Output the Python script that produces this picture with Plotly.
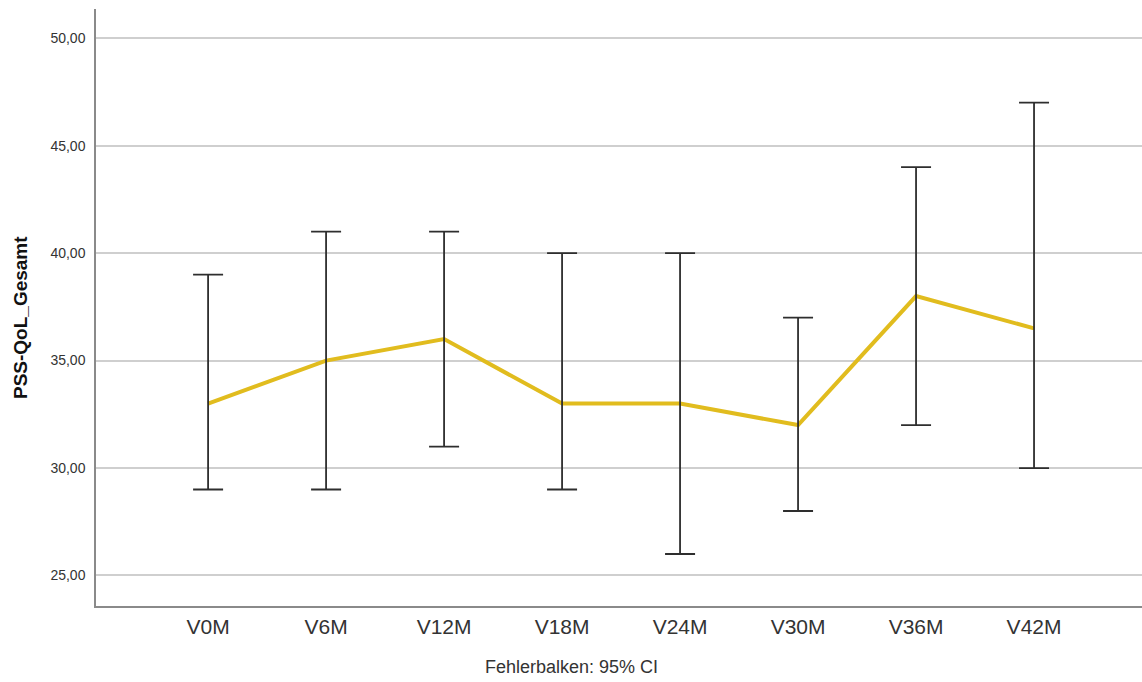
import plotly.graph_objects as go

# Visits and PSS-QoL total score: mean with 95% confidence interval
visits = ["V0M", "V6M", "V12M", "V18M", "V24M", "V30M", "V36M", "V42M"]
mean_score = [33, 35, 36, 33, 33, 32, 38, 36.5]
ci_lower = [29, 29, 31, 29, 26, 28, 32, 30]
ci_upper = [39, 41, 41, 40, 40, 37, 44, 47]
y_ticks = [25, 30, 35, 40, 45, 50]

err_plus = [u - m for u, m in zip(ci_upper, mean_score)]
err_minus = [m - l for m, l in zip(mean_score, ci_lower)]

FONT = "Liberation Sans, Arial, sans-serif"

fig = go.Figure()

# mean line
fig.add_trace(go.Scatter(
    x=visits, y=mean_score, mode="lines",
    line=dict(color="#E1BC1E", width=4),
    hoverinfo="skip", showlegend=False,
))

# confidence interval whiskers, drawn above the line
fig.add_trace(go.Scatter(
    x=visits, y=mean_score, mode="markers",
    marker=dict(size=1, color="rgba(0,0,0,0)"),
    error_y=dict(type="data", symmetric=False, array=err_plus, arrayminus=err_minus,
                 color="#2e2e2e", thickness=1.8, width=15),
    showlegend=False,
))

fig.update_layout(
    width=1142, height=682,
    margin=dict(l=96, r=0, t=9, b=76),
    paper_bgcolor="white", plot_bgcolor="white",
    separators=",.",
    font=dict(family=FONT, color="#333333"),
    xaxis=dict(
        type="category", range=[-0.95, 7.915],
        showgrid=False, zeroline=False,
        showline=True, linecolor="#8a8a8a", linewidth=1.5,
        ticks="outside", ticklen=1, tickcolor="rgba(0,0,0,0)",
        tickfont=dict(size=21, family=FONT, color="#333333"),
    ),
    yaxis=dict(
        range=[23.58, 51.36],
        tickvals=y_ticks, tickformat=".2f",
        showgrid=True, gridcolor="#cfcfcf", gridwidth=1.5,
        zeroline=False,
        showline=True, linecolor="#8a8a8a", linewidth=1.5,
        ticks="outside", ticklen=6, tickcolor="rgba(0,0,0,0)",
        tickfont=dict(size=14, family=FONT, color="#333333"),
    ),
    annotations=[
        dict(text="<b>PSS-QoL_Gesamt</b>", textangle=-90,
             xref="paper", yref="paper", x=-0.0727, y=0.484,
             xanchor="center", yanchor="middle", showarrow=False,
             font=dict(size=19, family=FONT, color="#111111")),
        dict(text="Fehlerbalken: 95% CI",
             xref="paper", yref="paper", x=0.4546, y=-0.1026,
             xanchor="center", yanchor="middle", showarrow=False,
             font=dict(size=18, family=FONT, color="#333333")),
    ],
)

fig.write_html("out.html")
